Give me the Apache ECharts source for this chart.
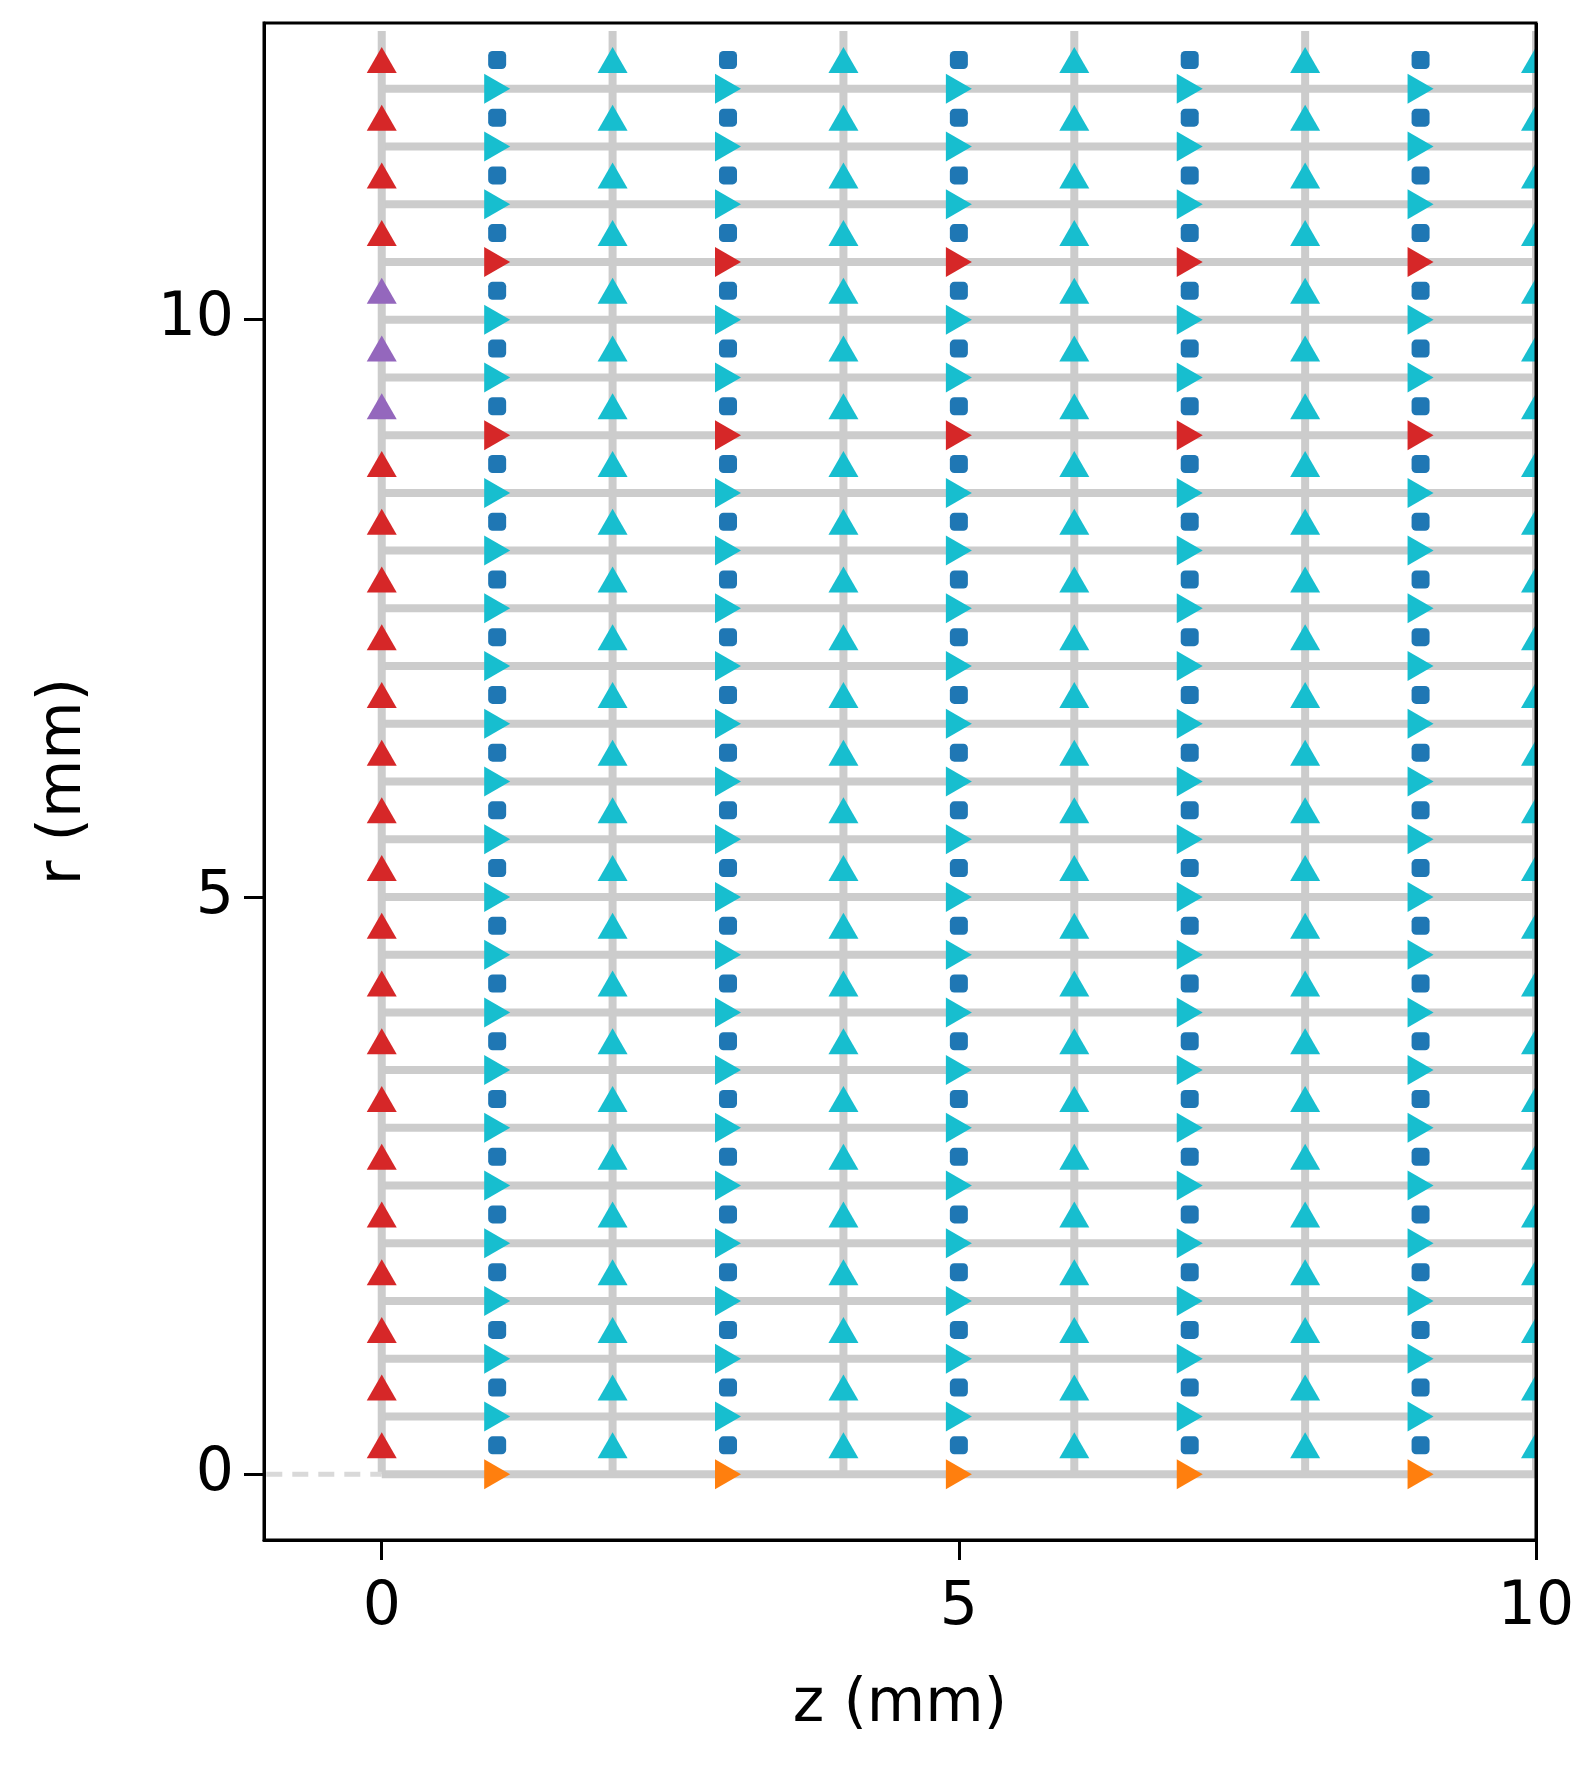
<!DOCTYPE html>
<html><head><meta charset="utf-8">
<script src="https://cdn.jsdelivr.net/npm/echarts@6/dist/echarts.min.js"></script>
<style>html,body{margin:0;background:#fff}#c{width:1596px;height:1768px}</style>
</head><body><div id="c"></div>
<script>
// grid positions
var zEven = [0, 2, 4, 6, 8, 10];
var zOdd = [1, 3, 5, 7, 9];
var rCell = [0.25, 0.75, 1.25, 1.75, 2.25, 2.75, 3.25, 3.75, 4.25, 4.75, 5.25, 5.75, 6.25,
  6.75, 7.25, 7.75, 8.25, 8.75, 9.25, 9.75, 10.25, 10.75, 11.25, 11.75, 12.25];
var rFace = [0, 0.5, 1, 1.5, 2, 2.5, 3, 3.5, 4, 4.5, 5, 5.5, 6, 6.5, 7, 7.5, 8, 8.5, 9, 9.5,
  10, 10.5, 11, 11.5, 12];
var rPurple = [9.25, 9.75, 10.25];   // special cells on axis z=0
var rRedFace = [9, 10.5];            // red radial faces
var rOrangeFace = [0];               // axis faces
var zLineTop = 12.5;
var tickVals = [0, 5, 10];

var series = [];
var gray = '#cccccc';
function seg(pts, dashed) {
  series.push({type: 'line', data: pts, symbol: 'none', silent: true, z: 1,
    lineStyle: {color: dashed ? '#d9d9d9' : gray, width: dashed ? 5 : 8, type: dashed ? [16, 10] : 'solid'}});
}
rFace.forEach(function (r) { seg([[0, r], [10, r]]); });
zEven.forEach(function (z) { seg([[z, 0], [z, zLineTop]]); });
seg([[-1, 0], [0, 0]], true);

function pts(zs, rs, keep) {
  var out = [];
  zs.forEach(function (z) { rs.forEach(function (r) { if (!keep || keep(z, r)) out.push([z, r]); }); });
  return out;
}
function scat(data, color, symbol, size, rot) {
  series.push({type: 'scatter', data: data, symbol: symbol, symbolSize: size,
    symbolRotate: rot || 0, itemStyle: {color: color, opacity: 1}, z: 3});
}
var triSize = [30, 26];
scat(pts([0], rCell, function (z, r) { return rPurple.indexOf(r) < 0; }), '#d62728', 'triangle', triSize);
scat(pts([0], rPurple), '#9467bd', 'triangle', triSize);
scat(pts(zEven.slice(1), rCell), '#17becf', 'triangle', triSize);
scat(pts(zOdd, rCell), '#1f77b4', 'roundRect', 18);
scat(pts(zOdd, rFace, function (z, r) { return r !== 0 && rRedFace.indexOf(r) < 0; }), '#17becf', 'triangle', triSize, -90);
scat(pts(zOdd, rRedFace), '#d62728', 'triangle', triSize, -90);
scat(pts(zOdd, rOrangeFace), '#ff7f0e', 'triangle', triSize, -90);

var axisCommon = {
  axisLine: {onZero: false, lineStyle: {color: '#000', width: 3}},
  axisTick: {length: 20, lineStyle: {color: '#000', width: 3}, customValues: tickVals},
  splitLine: {show: false},
  nameLocation: 'middle',
  nameTextStyle: {fontSize: 60, color: '#000', fontFamily: 'DejaVu Sans'}
};
var chart = echarts.init(document.getElementById('c'));
chart.setOption({
  animation: false,
  grid: {left: 264, right: 60, top: 23, bottom: 228, show: true, borderColor: '#000', borderWidth: 3, z: 10},
  graphic: [{type: 'rect', left: 1538, top: 0, shape: {width: 58, height: 1539}, style: {fill: '#fff'}, z: 100},
    {type: 'rect', left: 1535, top: 23, shape: {width: 3, height: 1518}, style: {fill: '#000'}, z: 101}],
  xAxis: Object.assign({type: 'value', min: -1.02, max: 10, name: 'z (mm)', nameGap: 135,
    axisLabel: {fontSize: 60, color: '#000', margin: 38, fontFamily: 'DejaVu Sans', customValues: tickVals}}, axisCommon),
  yAxis: Object.assign({type: 'value', min: -0.57, max: 12.57, name: 'r (mm)', nameGap: 170,
    axisLabel: {fontSize: 60, color: '#000', margin: 30, fontFamily: 'DejaVu Sans', customValues: tickVals}}, axisCommon),
  series: series
});
</script></body></html>
